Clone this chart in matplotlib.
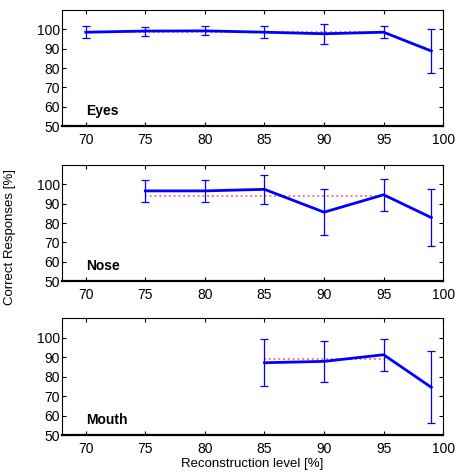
import numpy as np
import matplotlib.pyplot as plt

plt.rcParams['font.family'] = ['Liberation Sans Narrow', 'Liberation Sans', 'DejaVu Sans']

# data
eyes_x = [70, 75, 80, 85, 90, 95, 99]
eyes_y = [98.5, 99.1, 99.2, 98.5, 97.7, 98.5, 88.8]
eyes_err = [3.1, 2.3, 2.3, 3.0, 5.2, 3.0, 11.5]
eyes_mean = 98.7

nose_x = [75, 80, 85, 90, 95, 99]
nose_y = [96.6, 96.6, 97.4, 85.6, 94.6, 82.8]
nose_err = [5.6, 5.6, 7.5, 11.9, 8.2, 14.8]
nose_mean = 94.2

mouth_x = [85, 90, 95, 99]
mouth_y = [87.1, 87.8, 91.2, 74.5]
mouth_err = [12.0, 10.4, 8.2, 18.4]
mouth_mean = 88.9

panels = [("Eyes", eyes_x, eyes_y, eyes_err, eyes_mean),
          ("Nose", nose_x, nose_y, nose_err, nose_mean),
          ("Mouth", mouth_x, mouth_y, mouth_err, mouth_mean)]

xticks = [70, 75, 80, 85, 90, 95, 100]
yticks = [50, 60, 70, 80, 90, 100]

fig = plt.figure(figsize=(4.73, 4.74), dpi=100)
# axes boxes in figure fractions
boxes = [[0.131, 0.734, 0.806, 0.245],
         [0.131, 0.407, 0.806, 0.245],
         [0.131, 0.082, 0.806, 0.247]]

for box, (name, x, y, err, mean) in zip(boxes, panels):
    ax = fig.add_axes(box)
    # mean line (dotted red) over the points except the last one
    ax.plot([x[0], x[-2]], [mean, mean], ls=':', color='#ff6666', lw=1.3, zorder=2)
    ax.errorbar(x, y, yerr=err, color='#0000ff', lw=2.0, elinewidth=0.9,
                capsize=2.6, capthick=0.9, zorder=3)
    ax.set_xlim(68, 100)
    ax.set_ylim(50, 110)
    ax.set_xticks(xticks)
    ax.set_yticks(yticks)
    ax.tick_params(direction='in', top=True, right=True, length=3, width=0.8,
                   labelsize=10)
    ax.tick_params(axis='y', pad=1.5)
    ax.tick_params(axis='x', pad=5)
    for s in ['top', 'right', 'left']:
        ax.spines[s].set_linewidth(0.8)
    ax.spines['bottom'].set_linewidth(1.6)
    ax.text(70, 58, name, fontweight='bold', fontsize=10, va='center', ha='left',
            family=['Liberation Sans', 'DejaVu Sans'])

fig.text(0.022, 0.5, "Correct Responses [%]", rotation=90, va='center', ha='center',
         fontsize=9.5, family=['Liberation Sans', 'DejaVu Sans'])
fig.text(0.533, 0.021, "Reconstruction level [%]", va='center', ha='center',
         fontsize=9.5)

fig.savefig('out.png', dpi=100)
